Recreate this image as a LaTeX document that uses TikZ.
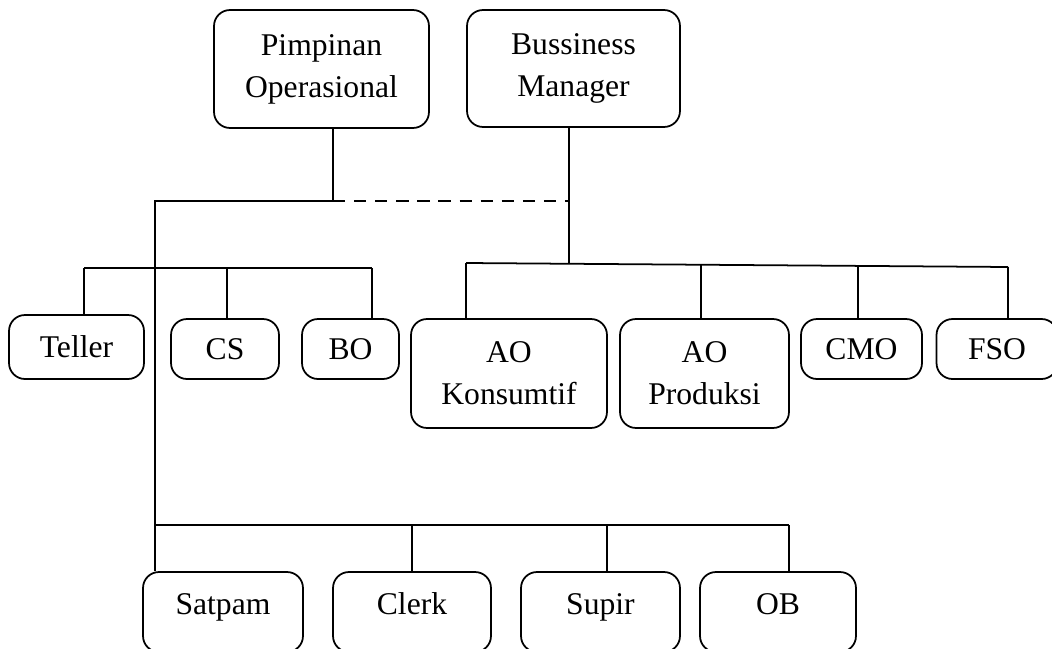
\documentclass[tikz,border=0pt]{standalone}
\usepackage{fontspec}
\setmainfont{Liberation Serif}
\usepackage{tikz}
\usetikzlibrary{positioning, calc}
\tikzset{
    unit/.style = {rectangle, rounded corners=0.32cm, line width=1pt, draw=black, align=center, inner sep=0pt, font=\fontsize{18}{24}\selectfont},
    single/.style = {unit, text height=14pt, text depth=2pt},
    staff/.style = {unit, text height=12pt, text depth=9pt, minimum height=1.6cm},
    link/.style = {line width=1pt},
    dotted link/.style = {line width=1pt, dash pattern=on 7pt off 5pt}
}

\begin{document}
\begin{tikzpicture}[x=0.02cm, y=-0.02cm]
\useasboundingbox (0,0) rectangle (1052,649);
\node (po) [unit, minimum width=4.3cm, minimum height=2.36cm] at (321.5,69) {Pimpinan\\Operasional};
\node (bm) [unit, minimum width=4.26cm, minimum height=2.34cm] at (573.5,68.5) {Bussiness\\Manager};
\node (teller) [single, minimum width=2.7cm, minimum height=1.28cm] at (76.5,347) {Teller};
\node (cs) [single, minimum width=2.16cm, minimum height=1.2cm] at (225,349) {CS};
\node (bo) [single, minimum width=1.94cm, minimum height=1.2cm] at (350.5,349) {BO};
\node (aok) [unit, minimum width=3.92cm, minimum height=2.18cm] at (509,373.5) {AO\\Konsumtif};
\node (aop) [unit, minimum width=3.38cm, minimum height=2.18cm] at (704.5,373.5) {AO\\Produksi};
\node (cmo) [single, minimum width=2.42cm, minimum height=1.2cm] at (861.5,349) {CMO};
\node (fso) [single, minimum width=2.42cm, minimum height=1.2cm] at (997,349) {FSO};
\node (satpam) [staff, minimum width=3.2cm] at (223,612) {Satpam};
\node (clerk) [staff, minimum width=3.16cm] at (412,612) {Clerk};
\node (supir) [staff, minimum width=3.18cm] at (600.5,612) {Supir};
\node (ob) [staff, minimum width=3.12cm] at (778,612) {OB};

% junctions
\coordinate (pj) at (333,201);
\coordinate (bj) at (569,201);
\coordinate (lb1) at (84,268);
\coordinate (lb2) at (227,268);
\coordinate (lb3) at (372,268);
\coordinate (rb1) at (466,263);
\coordinate (rb2) at (701,264.7);
\coordinate (rb3) at (858,265.9);
\coordinate (rb4) at (1008,267);
\coordinate (bb0) at (155,201);
\coordinate (bb1) at (155,525);
\coordinate (bb2) at (412,525);
\coordinate (bb3) at (607,525);
\coordinate (bb4) at (789,525);

\draw [link] (pj |- po.south) -- (pj) -- (bb0) -- (bb1) -- (bb4);
\draw [dotted link] (pj) -- (bj);
\draw [link] (bj |- bm.south) -- (bj) -- (bj |- rb1);
\draw [link] (lb1) -- (lb3);
\draw [link] (lb1) -- (lb1 |- teller.north);
\draw [link] (lb2) -- (lb2 |- cs.north);
\draw [link] (lb3) -- (lb3 |- bo.north);
\draw [link] (rb1) -- (rb4);
\draw [link] (rb1) -- (rb1 |- aok.north);
\draw [link] (rb2) -- (rb2 |- aop.north);
\draw [link] (rb3) -- (rb3 |- cmo.north);
\draw [link] (rb4) -- (rb4 |- fso.north);
\draw [link] (bb1) -- (bb1 |- satpam.north);
\draw [link] (bb2) -- (bb2 |- clerk.north);
\draw [link] (bb3) -- (bb3 |- supir.north);
\draw [link] (bb4) -- (bb4 |- ob.north);
\end{tikzpicture}
\end{document}
